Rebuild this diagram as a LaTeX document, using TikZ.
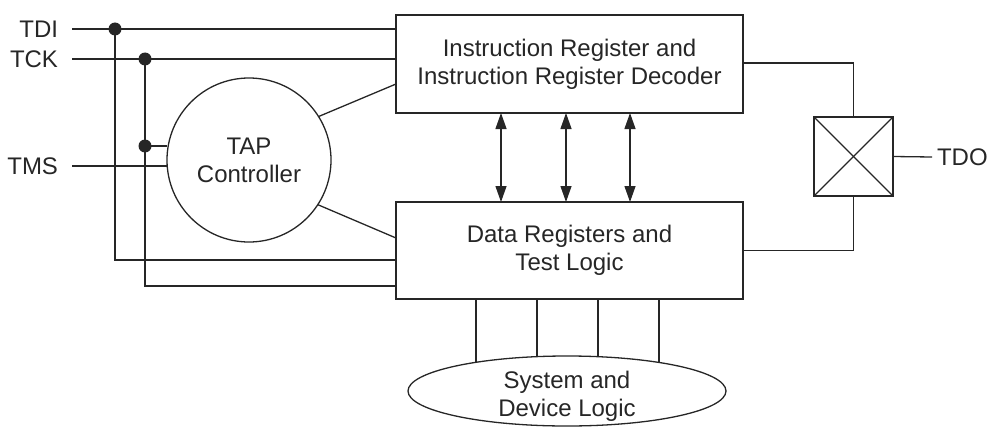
\documentclass[tikz,border=0pt]{standalone}
\usepackage{fontspec}
\setmainfont{Liberation Sans}
\usetikzlibrary{shapes.geometric,arrows.meta,calc}
\definecolor{lc}{HTML}{262626}
\begin{document}
\begin{tikzpicture}[x=1pt,y=-1pt,line width=1.3pt,color=lc,
  every node/.style={font=\fontsize{24}{28}\selectfont},
  blockbox/.style={draw,rectangle,minimum width=347pt,minimum height=98pt,inner sep=0pt,outer sep=0pt,align=center},
  sig/.style={inner sep=0pt,outer sep=0pt},
  jdot/.style={circle,fill,inner sep=0pt,minimum size=13pt},
  tip/.style={{Triangle[length=16pt,width=11pt]}-{Triangle[length=16pt,width=11pt]}}]
\useasboundingbox (0,0) rectangle (987,428);

% blocks
\node[blockbox] (ir) at (569.5,64) {Instruction Register and\\Instruction Register Decoder};
\node[blockbox,minimum height=97pt] (dr) at (569.5,250.5) {Data Registers and\\Test Logic};
\node[draw,circle,minimum size=164pt,inner sep=0pt,outer sep=0pt,align=center] (tap) at (249,160) {TAP\\Controller};
\node[draw,rectangle,minimum size=79pt,inner sep=0pt,outer sep=0pt] (mux) at (853.5,156.5) {};
\node[draw,ellipse,minimum width=318pt,minimum height=70pt,inner sep=0pt,outer sep=0pt] (ell) at (567,391) {};
\node[align=center] (elltext) at ([yshift=-5pt]ell.center) {System and\\Device Logic};

% signal labels
\node[sig,anchor=east] (tdi) at (58,29) {TDI};
\node[sig,anchor=east] (tck) at (58,59) {TCK};
\node[sig,anchor=east] (tms) at (58,166) {TMS};
\node[sig,anchor=west] (tdo) at (937,157) {TDO};

% junction dots
\node[jdot] (d1) at (115,29) {};
\node[jdot] (d2) at (145,59) {};
\node[jdot] (d3) at (145,146) {};

% input lines
\draw ([xshift=14pt]tdi.east) -- (ir.west |- tdi.east);
\draw ([xshift=14pt]tck.east) -- (ir.west |- tck.east);
\draw ([xshift=14pt]tms.east) -- (tap.west |- tms.east);
\draw (d1.center) |- ([yshift=-9.5pt]dr.west);
\draw (d2.center) |- ([yshift=-35.5pt]dr.west);
\draw (d3.center) -- (tap.west |- d3.center);

% TAP controller to blocks
\draw (tap.32.7) -- ([yshift=-20pt]ir.west);
\draw (tap.-33) -- ([yshift=12.5pt]dr.west);

% bidirectional arrows
\draw[tip] ([xshift=-68.5pt]ir.south) -- ([xshift=-68.5pt]dr.north);
\draw[tip] ([xshift=-3.5pt]ir.south) -- ([xshift=-3.5pt]dr.north);
\draw[tip] ([xshift=60.5pt]ir.south) -- ([xshift=60.5pt]dr.north);

% to system logic
\draw ([xshift=-93.5pt]dr.south) -- ([xshift=-91pt,yshift=28.7pt]ell.center);
\draw ([xshift=-32.5pt]dr.south) -- ([xshift=-30pt,yshift=34.4pt]ell.center);
\draw ([xshift=28.5pt]dr.south) -- ([xshift=31pt,yshift=34.3pt]ell.center);
\draw ([xshift=89.5pt]dr.south) -- ([xshift=92pt,yshift=28.5pt]ell.center);

% mux
\draw (mux.north west) -- (mux.south east);
\draw (mux.north east) -- (mux.south west);
\draw ([yshift=1pt]ir.east) -| (mux.north);
\draw (dr.east) -| (mux.south);
\draw (mux.east) -- ([xshift=-5pt]tdo.west);
\end{tikzpicture}
\end{document}
